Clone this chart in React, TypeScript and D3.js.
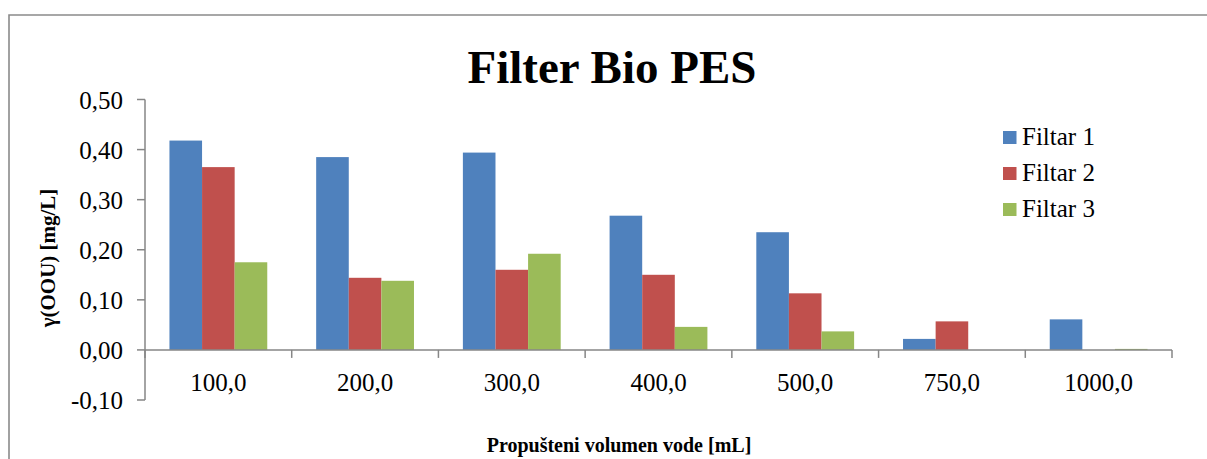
import React, { useEffect, useRef } from 'react'
import * as d3 from 'd3'

const categories = ['100,0', '200,0', '300,0', '400,0', '500,0', '750,0', '1000,0']
const seriesNames = ['Filtar 1', 'Filtar 2', 'Filtar 3']
const filtar1 = [0.418, 0.385, 0.394, 0.268, 0.235, 0.022, 0.061]
const filtar2 = [0.365, 0.144, 0.16, 0.15, 0.113, 0.057, 0.0]
const filtar3 = [0.175, 0.138, 0.192, 0.046, 0.037, 0.0, 0.002]
const yTicks = [-0.1, 0, 0.1, 0.2, 0.3, 0.4, 0.5]
const colors = ['#4F81BD', '#C0504D', '#9BBB59']

const W = 1207
const H = 459
const FONT = '"Liberation Serif", "Times New Roman", serif'

const App = () => {
  const svgRef = useRef<SVGSVGElement | null>(null)

  useEffect(() => {
    if (!svgRef.current) return
    const svg = d3.select(svgRef.current)
    svg.selectAll('*').remove()

    const values = [filtar1, filtar2, filtar3]
    const left = 145
    const right = 1172
    const axisColor = '#868686'

    // outer frame (cut off at right and bottom like the source)
    svg.append('path')
      .attr('d', `M9,${H + 2} V15 H${W + 2}`)
      .attr('fill', 'none')
      .attr('stroke', '#8a8a8a')
      .attr('stroke-width', 1.6)

    const y = d3.scaleLinear().domain([-0.1, 0.5]).range([400, 99.5])
    const x0 = d3.scaleBand<string>().domain(categories).range([left, right])
    const bw = x0.bandwidth()
    const gap = bw * 0.75 / 4.5
    const x1 = d3.scaleBand<string>().domain(seriesNames).range([gap, bw - gap])

    // bars
    const g = svg.append('g')
    seriesNames.forEach((s, si) => {
      g.selectAll(`.bar-${si}`)
        .data(values[si])
        .enter()
        .append('rect')
        .attr('x', (_, i) => (x0(categories[i]) as number) + (x1(s) as number))
        .attr('y', d => y(Math.max(d, 0)))
        .attr('width', x1.bandwidth())
        .attr('height', d => Math.max(Math.abs(y(d) - y(0)), d > 0 ? 0.8 : 0))
        .attr('fill', colors[si])
    })

    // y axis
    svg.append('line')
      .attr('x1', left).attr('x2', left)
      .attr('y1', y(0.5)).attr('y2', y(-0.1))
      .attr('stroke', axisColor).attr('stroke-width', 1.5)

    svg.selectAll('.ytick')
      .data(yTicks)
      .enter()
      .append('line')
      .attr('x1', left - 8).attr('x2', left)
      .attr('y1', d => y(d)).attr('y2', d => y(d))
      .attr('stroke', axisColor).attr('stroke-width', 1.5)

    svg.selectAll('.ylabel')
      .data(yTicks)
      .enter()
      .append('text')
      .attr('x', 123)
      .attr('y', d => y(d) + 9)
      .attr('text-anchor', 'end')
      .style('font-family', FONT)
      .style('font-size', '25px')
      .style('fill', '#000')
      .text(d => d3.format('.2f')(d).replace('.', ',').replace('−', '-'))

    // x axis
    svg.append('line')
      .attr('x1', left).attr('x2', right)
      .attr('y1', y(0)).attr('y2', y(0))
      .attr('stroke', axisColor).attr('stroke-width', 1.5)

    const bounds = categories.map(c => x0(c) as number).concat([right])
    svg.selectAll('.xtick')
      .data(bounds)
      .enter()
      .append('line')
      .attr('x1', d => d).attr('x2', d => d)
      .attr('y1', y(0)).attr('y2', y(0) + 8)
      .attr('stroke', axisColor).attr('stroke-width', 1.5)

    svg.selectAll('.xlabel')
      .data(categories)
      .enter()
      .append('text')
      .attr('x', d => (x0(d) as number) + bw / 2)
      .attr('y', 391)
      .attr('text-anchor', 'middle')
      .style('font-family', FONT)
      .style('font-size', '25px')
      .style('fill', '#000')
      .text(d => d)

    // title
    svg.append('text')
      .attr('x', 612)
      .attr('y', 83)
      .attr('text-anchor', 'middle')
      .style('font-family', FONT)
      .style('font-size', '47px')
      .style('font-weight', 'bold')
      .text('Filter Bio PES')

    // axis titles
    svg.append('text')
      .attr('x', 619)
      .attr('y', 452)
      .attr('text-anchor', 'middle')
      .style('font-family', FONT)
      .style('font-size', '20px')
      .style('font-weight', 'bold')
      .text('Propušteni volumen vode [mL]')

    svg.append('text')
      .attr('transform', 'translate(55,258) rotate(-90)')
      .attr('text-anchor', 'middle')
      .style('font-family', FONT)
      .style('font-size', '21px')
      .style('font-weight', 'bold')
      .text('γ(OOU) [mg/L]')

    // legend
    const legend = svg.append('g').attr('transform', 'translate(1003,131)')
    seriesNames.forEach((s, i) => {
      legend.append('rect')
        .attr('x', 0).attr('y', i * 36)
        .attr('width', 13.5).attr('height', 13)
        .attr('fill', colors[i])
      legend.append('text')
        .attr('x', 19).attr('y', i * 36 + 14)
        .style('font-family', FONT)
        .style('font-size', '25px')
        .text(s)
    })
  }, [])

  return (
    <svg
      ref={svgRef}
      width={W}
      height={H}
      style={{ position: 'absolute', left: 0, top: 0, background: '#fff', display: 'block' }}
    />
  )
}

export default App
